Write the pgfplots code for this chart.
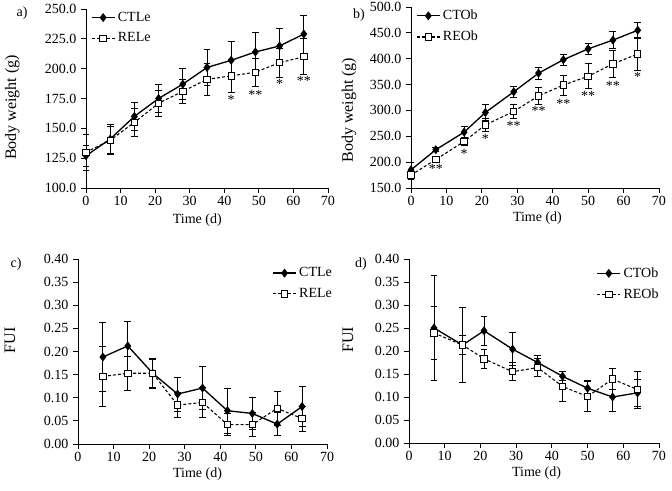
\documentclass[border=0pt]{standalone}
\usepackage{fontspec}
\setmainfont{Liberation Serif}
\usepackage{pgfplots}
\pgfplotsset{compat=1.18}

\pgfplotsset{
  panel/.style={
    scale only axis, clip=false,
    axis x line=bottom, axis y line=left,
    axis line style={-, line width=0.6pt},
    tick align=outside, major tick length=3.5pt,
    tick style={black, line width=0.6pt},
    xmin=0, xmax=70, xtick={0,10,...,70},
    /pgf/number format/assume math mode=true,
    label style={font=\fontsize{10.5}{12}\selectfont},
    ylabel style={font=\fontsize{12}{14}\selectfont},
    ticklabel style={font=\fontsize{10.5}{12}\selectfont},
    xticklabel style={yshift=1pt},
    xlabel={Time (d)},
    legend style={draw=none, fill=none, font=\fontsize{10.5}{12}\selectfont,
      anchor=north west, inner sep=0pt, row sep=3pt,
      cells={anchor=west}},
    legend cell align=left,
  },
  ctl/.style={black, solid, line width=1pt, mark=diamond*, mark size=2.6pt,
    mark options={solid, fill=black},
    error bars/.cd, y dir=both, y explicit,
    error bar style={solid, line width=0.6pt},
    error mark options={rotate=90, mark size=2.6pt, line width=0.6pt}},
  rel/.style={black, line width=0.8pt, dash pattern=on 2.2pt off 1.6pt,
    mark=square*, mark size=2.4pt,
    mark options={solid, fill=white, line width=0.7pt},
    error bars/.cd, y dir=both, y explicit,
    error bar style={solid, line width=0.6pt},
    error mark options={rotate=90, mark size=2.6pt, line width=0.6pt}},
}

\begin{document}
\fontsize{10.5}{12}\selectfont
\begin{tikzpicture}
\useasboundingbox (0,0) rectangle (504pt,368.25pt);

% a)
\begin{axis}[panel, at={(64.5pt,227.25pt)}, anchor=south west,
  width=181.5pt, height=134.25pt,
  ymin=100, ymax=250, ytick={100,125,...,250},
  yticklabel style={/pgf/number format/.cd, fixed, fixed zerofill, precision=1},
  ylabel={Body weight (g)},
  ylabel style={at={(axis description cs:-0.305,0.45)}, anchor=center},
  xlabel style={at={(axis description cs:0.46,-0.178)}, anchor=center},
  legend style={at={(axis description cs:0.02,1.0)}},
]
\addplot+[ctl] coordinates {
  (0,127) +- (0,9) (7,141) +- (0,12) (14,160) +- (0,12) (21,175) +- (0,12)
  (28,187) +- (0,13) (35,201) +- (0,15) (42,207) +- (0,16) (49,214) +- (0,16)
  (56,219) +- (0,15) (63,229) +- (0,16)};
\addplot+[rel] coordinates {
  (0,130) +- (0,15) (7,140) +- (0,12) (14,155) +- (0,12) (21,171) +- (0,11)
  (28,181) +- (0,10) (35,191) +- (0,13) (42,194) +- (0,14) (49,197) +- (0,12)
  (56,205) +- (0,12) (63,210) +- (0,15)};
\legend{CTLe,RELe}
\node at (axis cs:42,174) {*};
\node at (axis cs:49,178) {**};
\node at (axis cs:56,187) {*};
\node at (axis cs:63,190) {**};
\node at (axis description cs:-0.264,0.978) {a)};
\end{axis}

% b)
\begin{axis}[panel, at={(308.25pt,227.25pt)}, anchor=south west,
  width=186pt, height=135.75pt,
  ymin=150, ymax=500, ytick={150,200,...,500},
  yticklabel style={/pgf/number format/.cd, fixed, fixed zerofill, precision=1},
  ylabel={Body weight (g)},
  ylabel style={at={(axis description cs:-0.25,0.43)}, anchor=center},
  xlabel style={at={(axis description cs:0.51,-0.165)}, anchor=center},
  legend style={at={(axis description cs:0.02,1.0)}},
]
\addplot+[ctl] coordinates {
  (0,185) +- (0,15) (7,224) +- (0,4) (15,258) +- (0,12) (21,296) +- (0,16)
  (29,336) +- (0,11) (36,372) +- (0,12) (43,398) +- (0,11) (50,419) +- (0,10)
  (57,436) +- (0,16) (64,455) +- (0,15)};
\addplot+[rel] coordinates {
  (0,175) +- (0,8) (7,205) +- (0,5) (15,240) +- (0,8) (21,272) +- (0,12)
  (29,298) +- (0,13) (36,328) +- (0,16) (43,349) +- (0,19) (50,366) +- (0,24)
  (57,390) +- (0,26) (64,409) +- (0,32)};
\legend{CTOb,REOb}
\node at (axis cs:7,186) {**};
\node at (axis cs:15,215) {*};
\node at (axis cs:21,244) {*};
\node at (axis cs:29,270) {**};
\node at (axis cs:36,299) {**};
\node at (axis cs:43,312) {**};
\node at (axis cs:50,329) {**};
\node at (axis cs:57,347) {**};
\node at (axis cs:64,365) {*};
\node at (axis description cs:-0.21,0.956) {b)};
\end{axis}

% c)
\begin{axis}[panel, at={(58.5pt,35.25pt)}, anchor=south west,
  width=186.75pt, height=138.75pt,
  ymin=0, ymax=0.4, ytick={0,0.05,...,0.41},
  yticklabel style={/pgf/number format/.cd, fixed, fixed zerofill, precision=2},
  ylabel={FUI},
  ylabel style={at={(axis description cs:-0.273,0.56)}, anchor=center},
  xlabel style={at={(axis description cs:0.48,-0.165)}, anchor=center},
  legend style={at={(axis description cs:0.78,0.97)}},
]
\addplot+[ctl] coordinates {
  (7,0.188) +- (0,0.074) (14,0.212) +- (0,0.053) (21,0.153) +- (0,0.033)
  (28,0.108) +- (0,0.037) (35,0.121) +- (0,0.046) (42,0.072) +- (0,0.049)
  (49,0.066) +- (0,0.034) (56,0.043) +- (0,0.025) (63,0.081) +- (0,0.043)};
\addplot+[rel] coordinates {
  (7,0.146) +- (0,0.065) (14,0.153) +- (0,0.037) (21,0.153) +- (0,0.030)
  (28,0.084) +- (0,0.027) (35,0.090) +- (0,0.033) (42,0.042) +- (0,0.024)
  (49,0.042) +- (0,0.026) (56,0.077) +- (0,0.037) (63,0.055) +- (0,0.027)};
\legend{CTLe,RELe}
\node at (axis description cs:-0.249,0.973) {c)};
\end{axis}

% d)
\begin{axis}[panel, at={(306.75pt,36pt)}, anchor=south west,
  width=187.5pt, height=138pt,
  ymin=0, ymax=0.4, ytick={0,0.05,...,0.41},
  yticklabel style={/pgf/number format/.cd, fixed, fixed zerofill, precision=2},
  ylabel={FUI},
  ylabel style={at={(axis description cs:-0.244,0.56)}, anchor=center},
  xlabel style={at={(axis description cs:0.51,-0.165)}, anchor=center},
  legend style={at={(axis description cs:0.75,0.97)}},
]
\addplot+[ctl] coordinates {
  (7,0.250) +- (0,0.115) (15,0.213) +- (0,0.020) (21,0.244) +- (0,0.032)
  (29,0.204) +- (0,0.036) (36,0.175) +- (0,0.016) (43,0.145) +- (0,0.010)
  (50,0.119) +- (0,0.016) (57,0.100) +- (0,0.032) (64,0.109) +- (0,0.030)};
\addplot+[rel] coordinates {
  (7,0.239) +- (0,0.057) (15,0.213) +- (0,0.082) (21,0.183) +- (0,0.020)
  (29,0.155) +- (0,0.020) (36,0.164) +- (0,0.020) (43,0.123) +- (0,0.033)
  (50,0.101) +- (0,0.033) (57,0.139) +- (0,0.023) (64,0.116) +- (0,0.040)};
\legend{CTOb,REOb}
\node at (axis description cs:-0.192,0.973) {d)};
\end{axis}
\end{tikzpicture}
\end{document}
